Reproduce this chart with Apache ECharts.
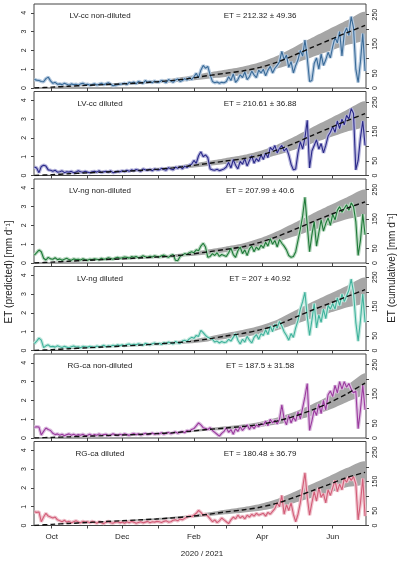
<!DOCTYPE html>
<html><head><meta charset="utf-8">
<script src="https://cdn.jsdelivr.net/npm/echarts@6/dist/echarts.min.js"></script>
<style>html,body{margin:0;padding:0;background:#fff}#c{width:400px;height:562px}</style>
</head><body><div id="c"></div>
<script>
// day 0 = 1 Oct 2020 ; daily predictions sampled every 2 days from day -15 (16 Sep 2020)
const firstDay = -15, dayStep = 2;

const panelNames = ['LV-cc non-diluted','LV-cc diluted','LV-ng non-diluted','LV-ng diluted','RG-ca non-diluted','RG-ca diluted'];
const etTexts = ['ET = 212.32 \u00b1 49.36','ET = 210.61 \u00b1 36.88','ET = 207.99 \u00b1 40.6','ET = 207 \u00b1 40.92','ET = 187.5 \u00b1 31.58','ET = 180.48 \u00b1 36.79'];

// daily predicted ET [mm d-1]
const p1 = [0.45,0.42,0.40,0.35,0.33,0.50,0.58,0.38,
 0.25,0.30,0.20,0.22,0.18,0.25,0.20,0.15,0.22,0.18,0.20,0.15,0.22,0.25,0.18,
 0.20,0.15,0.18,0.22,0.16,0.20,0.25,0.18,0.22,0.28,0.20,0.12,0.15,0.18,0.20,
 0.22,0.25,0.18,0.30,0.25,0.32,0.22,0.35,0.30,0.25,0.40,0.30,0.35,0.28,0.38,0.30,
 0.32,0.40,0.35,0.28,0.45,0.38,0.30,0.42,0.48,0.35,0.40,0.50,0.42,0.55,0.45,
 0.60,0.78,0.55,0.95,1.20,1.05,1.15,0.70,0.35,0.28,0.32,0.25,0.30,0.28,
 0.35,0.60,0.40,0.75,0.30,0.45,0.70,0.55,0.85,0.45,0.60,0.90,0.70,0.55,0.95,0.80,
 1.00,0.65,0.95,1.15,0.80,1.05,1.20,1.40,1.95,1.50,1.75,1.10,1.40,0.80,1.20,
 1.50,2.00,1.70,2.55,1.60,0.35,0.40,1.30,1.60,1.00,1.80,1.20,1.50,1.90,1.60,
 2.20,2.70,2.40,3.00,1.70,2.90,3.20,2.80,3.80,3.20,1.00,0.30,1.40,2.90,0.90];
const p2 = [0.45,0.40,0.15,0.48,0.55,0.50,0.30,0.28,
 0.22,0.28,0.18,0.20,0.25,0.15,0.20,0.18,0.22,0.15,0.18,0.25,0.20,0.17,0.22,
 0.18,0.15,0.20,0.22,0.18,0.25,0.16,0.20,0.22,0.18,0.25,0.15,0.18,0.22,0.20,
 0.25,0.20,0.28,0.22,0.30,0.25,0.32,0.28,0.22,0.35,0.30,0.28,0.33,0.25,0.35,0.30,
 0.30,0.38,0.32,0.28,0.42,0.35,0.30,0.45,0.38,0.48,0.35,0.50,0.42,0.55,0.60,
 0.80,0.65,1.05,1.26,1.00,1.10,0.95,0.35,0.30,0.28,0.33,0.26,0.30,0.35,
 0.45,0.70,0.40,0.85,0.55,0.35,0.75,0.60,0.90,0.50,0.80,1.05,0.65,0.90,0.75,1.10,
 0.85,1.20,0.95,1.50,1.35,1.60,1.20,1.45,1.60,1.30,1.45,1.10,0.60,0.30,0.35,
 1.20,1.80,1.40,2.00,2.94,0.40,1.30,1.60,1.90,1.40,1.70,1.20,1.60,2.10,2.30,
 2.60,2.30,2.90,2.50,3.00,2.70,3.20,3.00,3.56,3.30,0.30,0.80,2.00,2.90,1.60];
const p3 = [0.42,0.55,0.69,0.60,0.25,0.16,0.30,0.22,
 0.20,0.28,0.18,0.22,0.15,0.20,0.25,0.18,0.15,0.22,0.18,0.20,0.16,0.22,0.18,
 0.15,0.20,0.18,0.22,0.20,0.17,0.25,0.20,0.22,0.28,0.24,0.20,0.26,0.30,0.25,
 0.28,0.32,0.30,0.26,0.34,0.30,0.35,0.28,0.32,0.38,0.33,0.30,0.36,0.32,0.38,0.35,
 0.32,0.38,0.42,0.35,0.30,0.40,0.45,0.15,0.12,0.35,0.42,0.50,0.45,0.55,0.60,
 0.55,0.70,0.65,0.90,1.05,0.85,0.30,0.35,0.50,0.40,0.55,0.35,0.45,0.40,
 0.35,0.55,0.80,0.45,0.30,0.65,0.85,0.50,0.70,0.40,0.75,0.90,0.60,0.85,0.70,0.95,
 0.80,1.10,0.90,1.30,1.00,1.20,0.85,1.25,1.05,0.90,0.70,0.40,0.30,0.35,0.60,
 1.20,1.80,2.50,3.50,2.00,0.60,1.50,2.20,0.90,1.60,2.30,1.70,2.10,2.40,2.00,
 2.60,2.30,2.80,3.00,2.70,2.90,3.10,2.80,3.20,3.00,2.20,0.40,1.20,2.60,1.50];
const p4 = [0.36,0.50,0.66,0.55,0.15,0.25,0.30,0.20,
 0.22,0.18,0.25,0.20,0.16,0.22,0.18,0.15,0.20,0.24,0.18,0.20,0.15,0.22,0.20,
 0.18,0.22,0.20,0.16,0.24,0.20,0.22,0.28,0.20,0.25,0.22,0.28,0.24,0.30,0.26,
 0.30,0.25,0.32,0.35,0.28,0.33,0.30,0.36,0.32,0.28,0.38,0.34,0.30,0.36,0.40,0.35,
 0.38,0.32,0.42,0.36,0.45,0.40,0.35,0.48,0.42,0.38,0.50,0.55,0.48,0.62,0.70,
 0.65,0.80,0.75,1.07,0.95,0.80,0.70,0.65,0.60,0.45,0.50,0.40,0.48,0.42,
 0.45,0.60,0.50,0.70,0.90,0.55,0.35,0.60,0.45,0.75,0.55,0.40,0.70,0.85,0.60,0.90,
 0.80,1.10,0.85,1.30,1.00,1.40,1.20,1.55,1.30,1.00,0.80,0.55,0.90,0.70,1.20,
 1.60,2.20,2.60,3.10,1.80,0.80,1.60,2.50,1.20,1.90,1.50,2.20,1.70,2.40,2.20,
 2.50,2.20,2.80,2.40,3.00,2.60,2.90,3.20,3.80,3.10,1.50,0.50,1.60,3.00,1.50];
const p5 = [0.57,0.60,0.58,0.16,0.35,0.53,0.45,0.40,
 0.25,0.18,0.22,0.15,0.20,0.12,0.18,0.22,0.15,0.20,0.13,0.18,0.15,0.20,0.12,
 0.15,0.20,0.12,0.18,0.15,0.22,0.14,0.18,0.20,0.12,0.16,0.22,0.18,0.14,0.20,
 0.16,0.22,0.18,0.14,0.20,0.24,0.18,0.22,0.16,0.20,0.25,0.18,0.22,0.26,0.20,0.24,
 0.22,0.28,0.20,0.25,0.30,0.22,0.28,0.32,0.25,0.30,0.35,0.28,0.40,0.35,0.45,
 0.50,0.65,0.80,0.70,0.55,0.50,0.45,0.55,0.40,0.30,0.20,0.10,0.25,0.35,
 0.55,0.30,0.45,0.20,0.50,0.35,0.60,0.40,0.55,0.70,0.45,0.65,0.50,0.70,0.60,0.75,
 0.70,0.90,0.65,1.00,0.80,0.95,0.75,1.00,1.77,1.00,0.70,1.20,0.80,1.10,0.90,
 1.40,1.00,1.60,2.20,2.90,0.40,0.90,1.50,1.20,1.80,1.30,2.00,1.50,2.30,2.50,
 2.20,2.80,2.40,3.00,2.60,3.00,2.70,2.90,2.60,2.40,2.50,0.50,1.50,2.80,1.50];
const p6 = [0.73,0.70,0.72,0.20,0.45,0.65,0.50,0.45,
 0.40,0.45,0.30,0.25,0.20,0.28,0.18,0.22,0.15,0.20,0.25,0.18,0.15,0.22,0.18,
 0.20,0.15,0.22,0.18,0.12,0.20,0.15,0.10,0.18,0.22,0.15,0.12,0.18,0.20,0.14,
 0.18,0.12,0.20,0.15,0.22,0.18,0.12,0.16,0.20,0.14,0.18,0.22,0.15,0.20,0.18,0.22,
 0.20,0.16,0.22,0.25,0.18,0.20,0.28,0.30,0.25,0.35,0.30,0.38,0.45,0.50,0.48,
 0.55,0.65,0.80,0.70,0.55,0.60,0.50,0.35,0.20,0.30,0.15,0.25,0.40,0.30,
 0.20,0.10,0.30,0.45,0.35,0.55,0.40,0.50,0.35,0.55,0.45,0.60,0.50,0.65,0.55,0.60,
 0.65,0.50,0.70,0.60,0.75,0.90,1.20,1.00,1.60,0.60,1.10,0.80,1.20,0.60,0.20,
 0.60,1.20,2.00,2.80,1.50,0.55,1.20,1.80,1.30,2.00,1.50,1.70,1.20,1.90,1.60,
 2.00,2.40,1.80,2.20,1.90,2.50,2.30,2.60,2.40,2.60,2.20,0.30,1.20,2.50,0.50];

// cumulative ET [mm] (mean and half-width of band)
const cumDays = [-15,0,15,30,45,60,75,90,105,120,135,150,165,180,195,210,225,240,255,271];
const cum1 = [0,3,6,9,11.5,14,17,21,26,33,42,50,58,70,88,112,138,163,188,213];
const cum2 = [0,3,6,9,11.5,14,17,21,26,33,41,49,57,69,87,110,136,161,186,211];
const cum3 = [0,3,6,9,11.5,14,17,20,24,30,38,46,55,70,90,114,139,163,186,208];
const cum4 = [0,3,6,9,12,15,18,22,26,31,39,49,58,70,87,112,137,160,183,207];
const cum5 = [0,2,4,6,8,10,12,15,18,23,29,34,39,46,58,74,95,120,150,187];
const cum6 = [0,4,7,10,13,16,19,22,26,31,38,46,53,62,76,96,118,140,163,181];
const sd1 = [0,0.8,1.5,2.2,2.8,3.5,4.2,5.2,6.5,8.3,10.5,12.5,14.5,17.5,22,28,33,38,42,46];
const sd2 = [0,0.6,1.2,1.8,2.3,2.8,3.4,4.2,5.2,6.6,8.4,10,11.6,14,17.6,22.4,27.4,32,37,41];
const sd3 = [0,0.7,1.3,1.9,2.4,2.9,3.5,4.2,5,6.3,8,9.7,11.3,13.9,18,23,28,32.5,37,41];
const sd4 = [0,0.7,1.3,1.9,2.5,3.1,3.7,4.5,5.3,6.3,8,10,12,14.4,18,23,28,32.5,37,41];
const sd5 = [0,0.3,0.6,0.9,1.2,1.5,1.8,2.3,2.8,3.6,4.7,5.8,7,8.8,11.5,15,19,23.5,28,33];
const sd6 = [0,0.5,0.9,1.3,1.7,2.1,2.6,3.1,3.8,4.8,6.3,7.8,9.3,11.5,14.5,19,23.5,28,32.5,37];

const monthTickDays = [0,31,61,92,123,151,182,212,243];
const monthLabelDays = [0,61,123,182,243];
const monthLabels = ['Oct','Dec','Feb','Apr','Jun'];
const leftTicks = [0,1,2,3,4];
const rightTicks = [0,50,100,150,200,250];
const rightLabels = [0,50,150,250];

const daily = [p1,p2,p3,p4,p5,p6];
const cums = [cum1,cum2,cum3,cum4,cum5,cum6];
const sds = [sd1,sd2,sd3,sd4,sd5,sd6];
const lineColors = ['#3a6b98','#2b2a8a','#1f7a38','#3fb39c','#9a3a9e','#d25d78'];
const hazeColors = ['#b7cbe0','#b6b5dc','#b9d8c1','#c4e8df','#ddbfe0','#efc2cc'];

const FONT = '"Liberation Sans", Arial, sans-serif';
const tops = [4, 91.5, 179, 266.5, 354, 441.5];
const H = 84;

const grid = [], xAxis = [], yAxis = [], series = [], graphic = [];
tops.forEach((t, i) => {
  grid.push({left: 34, right: 34, top: t, height: H, show: true, borderColor: '#444', borderWidth: 1,
             backgroundColor: 'transparent', containLabel: false, outerBoundsMode: 'none'});
  xAxis.push({type: 'value', gridIndex: i, min: -15.3, max: 271.8,
    axisLine: {show: false, onZero: false}, splitLine: {show: false},
    axisTick: {show: true, inside: false, length: 3, lineStyle: {color: '#444', width: 1}, customValues: monthTickDays},
    axisLabel: {show: i === 5, customValues: monthLabelDays, fontSize: 8, color: '#222', fontFamily: FONT, margin: 7,
      formatter: v => monthLabels[monthLabelDays.indexOf(v)] || ''}});
  yAxis.push({type: 'value', gridIndex: i, position: 'left', min: 0, max: 4.47,
    axisLine: {show: false, onZero: false}, splitLine: {show: false},
    axisTick: {show: true, length: 3, lineStyle: {color: '#444'}, customValues: leftTicks},
    axisLabel: {customValues: leftTicks, rotate: 90, fontSize: 7, color: '#222', fontFamily: FONT, margin: 6}});
  yAxis.push({type: 'value', gridIndex: i, position: 'right', min: 0, max: 286,
    axisLine: {show: false, onZero: false}, splitLine: {show: false},
    axisTick: {show: true, length: 3, lineStyle: {color: '#444'}, customValues: rightTicks},
    axisLabel: {customValues: rightLabels, rotate: 90, fontSize: 7, color: '#222', fontFamily: FONT, margin: 6}});

  const cm = cums[i], sd = sds[i], pv = daily[i];
  series.push({type: 'custom', xAxisIndex: i, yAxisIndex: 2*i+1, silent: true, clip: true, z: 1,
    encode: {x: 0, y: [1, 2]},
    data: cumDays.map((d, k) => [d, cm[k] - sd[k], cm[k] + sd[k]]),
    renderItem: (params, api) => {
      if (params.dataIndex !== 0) return null;
      const pts = [];
      for (let k = 0; k < cumDays.length; k++) pts.push(api.coord([cumDays[k], cm[k] + sd[k]]));
      for (let k = cumDays.length - 1; k >= 0; k--) pts.push(api.coord([cumDays[k], cm[k] - sd[k]]));
      return {type: 'polygon', shape: {points: pts, smooth: 0.25}, style: {fill: '#a6a6a6', stroke: null}};
    }});
  series.push({type: 'line', xAxisIndex: i, yAxisIndex: 2*i, symbol: 'none', silent: true, z: 2,
    lineStyle: {color: hazeColors[i], width: 3.5},
    data: pv.map((v, k) => [firstDay + dayStep * k, v])});
  series.push({type: 'line', xAxisIndex: i, yAxisIndex: 2*i, symbol: 'none', silent: true, z: 3,
    lineStyle: {color: lineColors[i], width: 1.1},
    data: pv.map((v, k) => [firstDay + dayStep * k, v])});
  series.push({type: 'line', xAxisIndex: i, yAxisIndex: 2*i+1, symbol: 'none', smooth: 0.3, silent: true, z: 4,
    lineStyle: {color: '#111', width: 1.4, type: [5, 3]},
    data: cumDays.map((d, k) => [d, cm[k]])});

  graphic.push({type: 'text', x: 100, y: t + 12, z: 10, style: {text: panelNames[i], fill: '#222',
    font: '8px ' + FONT, align: 'center', verticalAlign: 'middle', textAlign: 'center', textVerticalAlign: 'middle'}});
  graphic.push({type: 'text', x: 260, y: t + 12, z: 10, style: {text: etTexts[i], fill: '#222',
    font: '8px ' + FONT, align: 'center', verticalAlign: 'middle', textAlign: 'center', textVerticalAlign: 'middle'}});
});

graphic.push({type: 'text', x: 202, y: 554, style: {text: '2020 / 2021', fill: '#222', font: '8px ' + FONT,
  align: 'center', verticalAlign: 'middle', textAlign: 'center', textVerticalAlign: 'middle'}});
graphic.push({type: 'text', x: 9, y: 272, rotation: Math.PI / 2, style: {text: 'ET (predicted) [mm d\u207b\u00b9]', fill: '#222',
  font: '10px ' + FONT, align: 'center', verticalAlign: 'middle', textAlign: 'center', textVerticalAlign: 'middle'}});
graphic.push({type: 'text', x: 392, y: 268, rotation: Math.PI / 2, style: {text: 'ET (cumulative) [mm d\u207b\u00b9]', fill: '#222',
  font: '10px ' + FONT, align: 'center', verticalAlign: 'middle', textAlign: 'center', textVerticalAlign: 'middle'}});

const chart = echarts.init(document.getElementById('c'), null, {renderer: 'canvas'});
chart.setOption({animation: false, backgroundColor: '#fff', grid, xAxis, yAxis, series, graphic});
</script></body></html>
